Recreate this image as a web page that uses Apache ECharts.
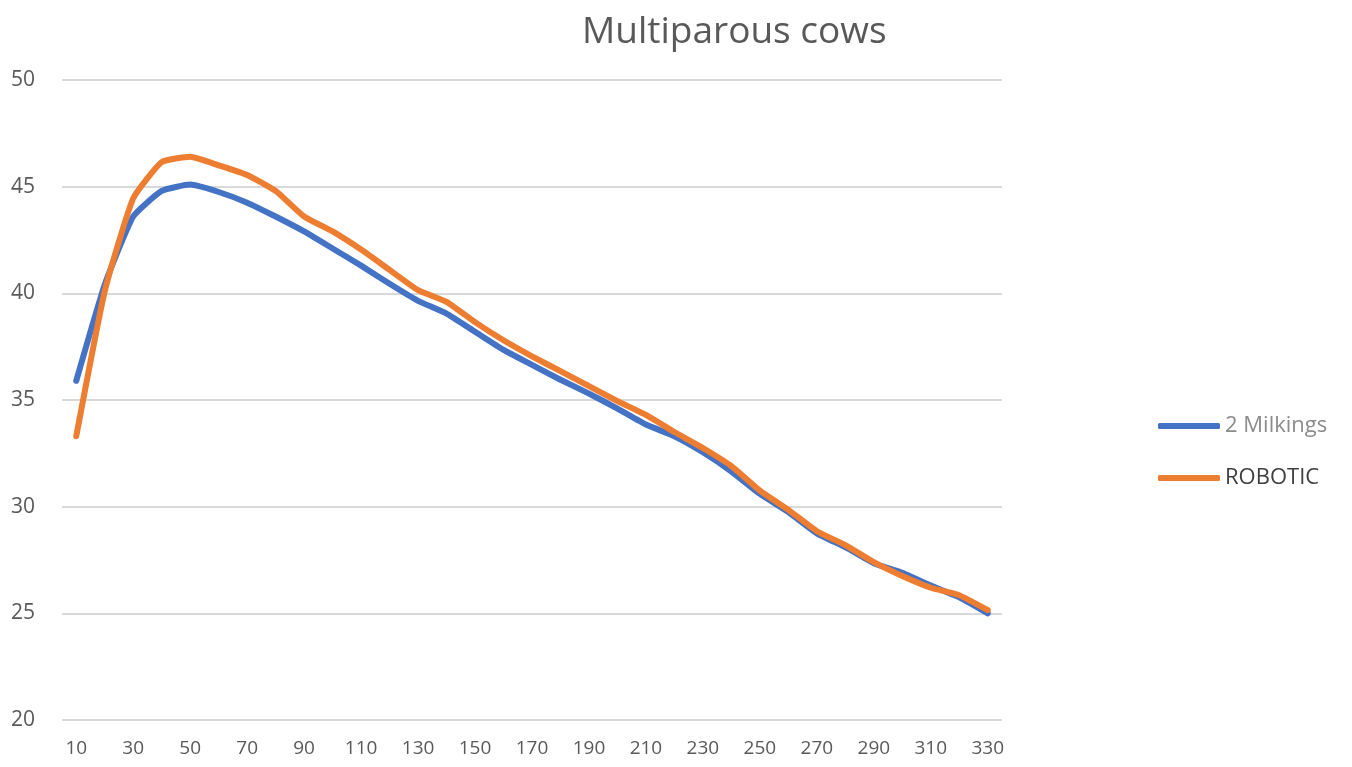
<!DOCTYPE html>
<html>
<head>
<meta charset="utf-8">
<script src="https://cdn.jsdelivr.net/npm/echarts@6/dist/echarts.min.js"></script>
<style>
  html, body { margin: 0; padding: 0; background: #fff; }
  #main { width: 1352px; height: 767px; }
</style>
</head>
<body>
<div id="main"></div>
<script>
  // 泌乳天数
  var days = [10, 20, 30, 40, 50, 60, 70, 80, 90, 100, 110, 120, 130, 140, 150, 160, 170,
    180, 190, 200, 210, 220, 230, 240, 250, 260, 270, 280, 290, 300, 310, 320, 330]
  var twoMilkings = [35.9, 40.4, 43.6, 44.8, 45.1, 44.75, 44.25, 43.6, 42.9, 42.1, 41.3, 40.45,
    39.65, 39.05, 38.2, 37.35, 36.65, 35.95, 35.3, 34.6, 33.85, 33.3, 32.55, 31.65, 30.6,
    29.75, 28.75, 28.1, 27.35, 26.9, 26.3, 25.75, 25.0]
  var robotic = [33.3, 40.1, 44.45, 46.15, 46.4, 46.0, 45.55, 44.8, 43.6, 42.9, 42.05, 41.1,
    40.15, 39.6, 38.65, 37.8, 37.05, 36.35, 35.65, 34.95, 34.3, 33.5, 32.75, 31.9, 30.75,
    29.85, 28.85, 28.2, 27.4, 26.75, 26.2, 25.85, 25.15]
  var seriesNames = ['2 Milkings', 'ROBOTIC']

  var chart = echarts.init(document.getElementById('main'))
  var font = '"Open Sans", "Noto Sans", sans-serif'
  var option = {
    backgroundColor: '#fff',
    animation: false,
    color: ['#4472C4', '#ED7D31'],
    title: {
      text: 'Multiparous cows',
      left: 577,
      top: 9,
      textStyle: {
        color: '#595959',
        fontFamily: font,
        fontWeight: 'normal',
        fontSize: 37
      }
    },
    legend: {
      orient: 'vertical',
      left: 1153,
      top: 410,
      icon: 'roundRect',
      itemWidth: 62,
      itemHeight: 6,
      itemGap: 30,
      data: [
        { name: seriesNames[0], textStyle: { color: '#8c8c8c' } },
        { name: seriesNames[1], textStyle: { color: '#404040' } }
      ],
      textStyle: {
        fontFamily: font,
        fontSize: 22
      }
    },
    grid: {
      left: 62,
      right: 350,
      top: 80,
      bottom: 47
    },
    xAxis: {
      type: 'category',
      boundaryGap: true,
      data: days,
      axisLine: { show: false },
      axisTick: { show: false },
      axisLabel: {
        interval: 1,
        color: '#595959',
        fontFamily: font,
        fontSize: 19,
        margin: 19
      }
    },
    yAxis: {
      type: 'value',
      min: 20,
      max: 50,
      interval: 5,
      axisLine: { show: false },
      axisTick: { show: false },
      axisLabel: {
        color: '#595959',
        fontFamily: font,
        fontSize: 21,
        margin: 27
      },
      splitLine: {
        lineStyle: { color: '#d9d9d9', width: 2 }
      }
    },
    series: [{
      name: seriesNames[0],
      type: 'line',
      data: twoMilkings,
      symbol: 'none',
      smooth: 0.15,
      lineStyle: { width: 6, cap: 'round', join: 'round' }
    }, {
      name: seriesNames[1],
      type: 'line',
      data: robotic,
      symbol: 'none',
      smooth: 0.15,
      lineStyle: { width: 6, cap: 'round', join: 'round' }
    }]
  }
  chart.setOption(option)
</script>
</body>
</html>
